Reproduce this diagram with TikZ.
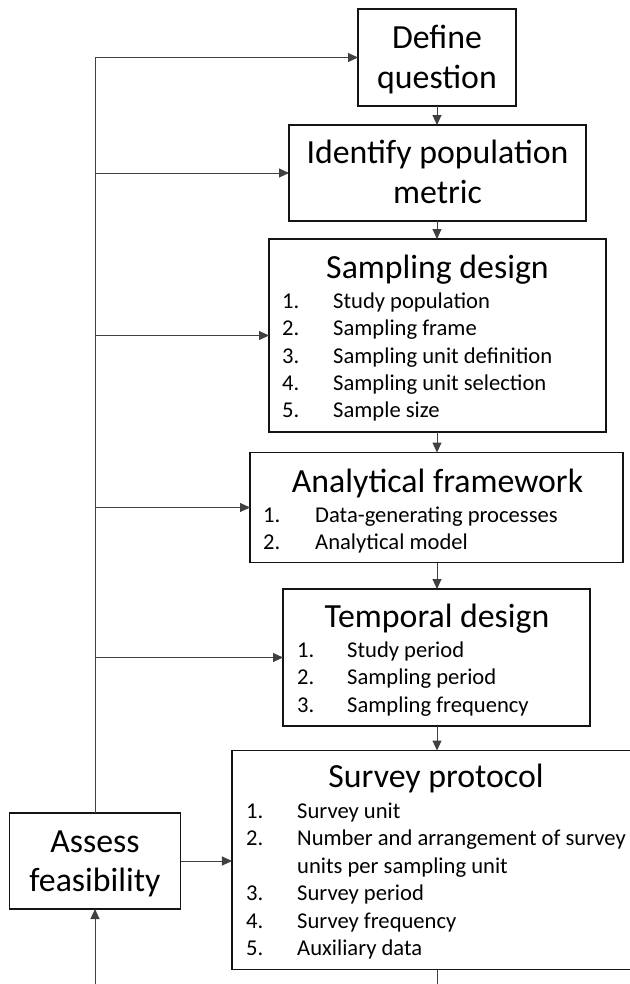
\documentclass[tikz,border=0pt]{standalone}
\usepackage{fontspec}
\setmainfont{Carlito}
\usetikzlibrary{arrows.meta}
\begin{document}
\begin{tikzpicture}[x=1bp,y=-1bp,
  boxline/.style={draw=black!92, line width=1.3bp},
  box/.style={boxline, inner sep=0pt, outer sep=0pt},
  openbox/.style={inner sep=0pt, outer sep=0pt},
  big/.style={inner sep=0pt, anchor=base, font=\fontsize{33.8bp}{40bp}\selectfont},
  item/.style={inner sep=0pt, anchor=base west, font=\fontsize{22.6bp}{27bp}\selectfont},
  conn/.style={draw=black!75, line width=1bp},
  arr/.style={conn, -{Triangle[length=10bp,width=9bp]}}]
\useasboundingbox (0,0) rectangle (630,984);
\clip (0,0) rectangle (630,984);
\fill[white] (0,0) rectangle (630,984);

% boxes
\node[box, minimum width=158bp, minimum height=97bp] (def) at (437,57.5) {};
\node[box, minimum width=297bp, minimum height=96bp] (ide) at (437.5,173) {};
\node[box, minimum width=337bp, minimum height=193bp] (sam) at (437.5,335.5) {};
\node[box, minimum width=373bp, minimum height=110bp] (ana) at (436.5,507.5) {};
\node[box, minimum width=307bp, minimum height=137bp] (tem) at (436.5,657.5) {};
\node[openbox, minimum width=460bp, minimum height=219bp] (sur) at (462,860) {};
\draw[boxline] (sur.north east) -- (sur.north west) -- (sur.south west) -- (sur.south east);
\node[box, minimum width=171bp, minimum height=96bp] (ass) at (95,861) {};

% texts
\node[big] (defA) at (437,48) {Define};
\node[big] (defB) at (437,88) {question};
\node[big] (ideA) at (437.5,163) {Identify population};
\node[big] (ideB) at (437.5,203) {metric};

\node[big] (samT) at (437.5,278) {Sampling design};
\node[item] (s1n) at (282,308) {1.};   \node[item] (s1t) at (333,308) {Study population};
\node[item] (s2n) at (282,335.5) {2.}; \node[item] (s2t) at (333,335.5) {Sampling frame};
\node[item] (s3n) at (282,363) {3.};   \node[item] (s3t) at (333,363) {Sampling unit definition};
\node[item] (s4n) at (282,390.5) {4.}; \node[item] (s4t) at (333,390.5) {Sampling unit selection};
\node[item] (s5n) at (282,417.5) {5.}; \node[item] (s5t) at (333,417.5) {Sample size};

\node[big] (anaT) at (437.5,492) {Analytical framework};
\node[item] (a1n) at (263,522) {1.}; \node[item] (a1t) at (315,522) {Data-generating processes};
\node[item] (a2n) at (263,549) {2.}; \node[item] (a2t) at (315,549) {Analytical model};

\node[big] (temT) at (437,627) {Temporal design};
\node[item] (t1n) at (297,657) {1.};   \node[item] (t1t) at (347,657) {Study period};
\node[item] (t2n) at (297,684.5) {2.}; \node[item] (t2t) at (347,684.5) {Sampling period};
\node[item] (t3n) at (297,712) {3.};   \node[item] (t3t) at (347,712) {Sampling frequency};

\node[big] (surT) at (436,787) {Survey protocol};
\node[item] (u1n) at (246,818) {1.};   \node[item] (u1t) at (297,818) {Survey unit};
\node[item] (u2n) at (246,845.5) {2.}; \node[item] (u2t) at (297,845.5) {Number and arrangement of survey};
\node[item] (u2c) at (297,873) {units per sampling unit};
\node[item] (u3n) at (246,900.5) {3.}; \node[item] (u3t) at (297,900.5) {Survey period};
\node[item] (u4n) at (246,928) {4.};   \node[item] (u4t) at (297,928) {Survey frequency};
\node[item] (u5n) at (246,955.5) {5.}; \node[item] (u5t) at (297,955.5) {Auxiliary data};

\node[big] (assA) at (95,852) {Assess};
\node[big] (assB) at (95,891) {feasibility};

% connectors
\coordinate (top) at (ass.north |- def.west);
\coordinate (botL) at (95,995);
\coordinate (botR) at (437,995);
\draw[conn] (ass.north) -- (top);
\draw[arr] (top) -- (def.west);
\draw[arr] (ass.north |- ide.west) -- (ide.west);
\draw[arr] (ass.north |- sam.west) -- (sam.west);
\draw[arr] (ass.north |- ana.west) -- (ana.west);
\draw[arr] (ass.north |- tem.west) -- (tem.west);
\draw[arr] (ass.east) -- (ass.east -| sur.west);
\draw[arr] (botL) -- (ass.south);
\draw[conn] (botR |- sur.south) -- (botR);

\draw[arr] (def.south) -- (def.south |- ide.north);
\draw[arr] (def.south |- ide.south) -- (def.south |- sam.north);
\draw[arr] (def.south |- sam.south) -- (def.south |- ana.north);
\draw[arr] (def.south |- ana.south) -- (def.south |- tem.north);
\draw[arr] (def.south |- tem.south) -- (def.south |- sur.north);
\end{tikzpicture}
\end{document}
